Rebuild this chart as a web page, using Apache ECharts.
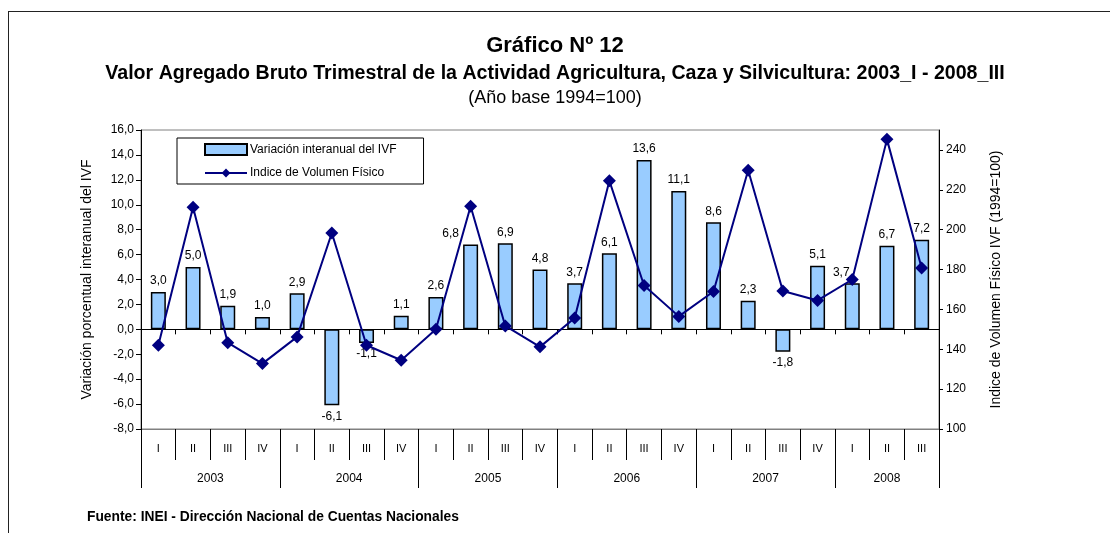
<!DOCTYPE html>
<html>
<head>
<meta charset="utf-8">
<script src="https://cdn.jsdelivr.net/npm/echarts@6/dist/echarts.min.js"></script>
<style>
  html, body { margin: 0; padding: 0; background: #fff; }
  #chart { width: 1110px; height: 533px; position: absolute; left: 0; top: 0; }
  #frame { position: absolute; left: 8px; top: 11px; width: 1200px; height: 600px;
           border-top: 1px solid #222; border-left: 1px solid #222; pointer-events: none; }
</style>
</head>
<body>
<div id="chart"></div>
<div id="frame"></div>
<script>
// ---- data ----
const years = ['2003', '2004', '2005', '2006', '2007', '2008'];
const quarters = ['I','II','III','IV','I','II','III','IV','I','II','III','IV',
                  'I','II','III','IV','I','II','III','IV','I','II','III'];
const variacion = [3.0, 5.0, 1.9, 1.0,
                   2.9, -6.1, -1.1, 1.1,
                   2.6, 6.8, 6.9, 4.8,
                   3.7, 6.1, 13.6, 11.1,
                   8.6, 2.3, -1.8, 5.1,
                   3.7, 6.7, 7.2];
const indice = [142.0, 211.2, 143.3, 132.8,
                146.2, 198.3, 142.0, 134.5,
                150.0, 211.7, 151.7, 141.2,
                155.7, 224.5, 172.0, 156.5,
                169.0, 229.8, 169.2, 164.5,
                175.0, 245.3, 180.8];
const yearBoundaries = [0, 4, 8, 12, 16, 20, 23];
const yearCenters = [2, 6, 10, 14, 18, 21.5];

// label horizontal nudges (style only)
const labelShift = { 9: -20, 20: -11 };

const FONT = "'Liberation Sans Narrow', 'Arial Narrow', 'Liberation Sans', Arial, sans-serif";
const fmt1 = v => v.toFixed(1).replace('.', ',');

const chart = echarts.init(document.getElementById('chart'), null, { renderer: 'canvas' });

const barData = variacion.map((v, i) => ({
  value: v,
  label: {
    position: v < 0 ? 'bottom' : 'top',
    offset: [labelShift[i] || 0, 0]
  }
}));

const option = {
  backgroundColor: '#fff',
  animation: false,
  textStyle: { fontFamily: FONT, color: '#000' },
  title: [
    { text: 'Gráfico Nº 12', left: 'center', top: 30,
      textStyle: { fontFamily: FONT, fontSize: 22, fontWeight: 'bold', color: '#000' } },
    { text: 'Valor Agregado Bruto Trimestral de la Actividad Agricultura, Caza y Silvicultura: 2003_I - 2008_III',
      left: 'center', top: 59,
      textStyle: { fontFamily: FONT, fontSize: 19.6, fontWeight: 'bold', color: '#000' } },
    { text: '(Año base 1994=100)', left: 'center', top: 84,
      textStyle: { fontFamily: FONT, fontSize: 18, fontWeight: 'normal', color: '#000' } },
    { text: 'Fuente: INEI - Dirección Nacional de Cuentas Nacionales', left: 82, top: 505,
      textStyle: { fontFamily: FONT, fontSize: 13.8, fontWeight: 'bold', color: '#000' } }
  ],
  legend: {
    orient: 'vertical',
    left: 177, top: 138,
    padding: [5, 27, 5, 27],
    itemGap: 11,
    itemWidth: 42, itemHeight: 11,
    borderColor: '#000', borderWidth: 1,
    backgroundColor: '#fff',
    textStyle: { fontFamily: FONT, fontSize: 12, color: '#000', padding: [0, 0, 0, -2] },
    data: [
      { name: 'Variación interanual del IVF', icon: 'rect' },
      { name: 'Indice de Volumen Físico' }
    ]
  },
  grid: {
    left: 141, right: 171, top: 130, bottom: 104,
    show: true, borderColor: '#808080', borderWidth: 1, backgroundColor: 'transparent'
  },
  xAxis: [
    { // category axis crossing at zero
      type: 'category', data: quarters, position: 'bottom',
      axisLine: { onZero: true, lineStyle: { color: '#000', width: 1 } },
      axisTick: { show: true, length: 5, lineStyle: { color: '#000' } },
      axisLabel: { show: false }
    },
    { // quarter labels at bottom
      type: 'category', data: quarters, position: 'bottom',
      axisLine: { onZero: false, lineStyle: { color: '#808080', width: 1 } },
      axisTick: { show: true, length: 31, lineStyle: { color: '#000' } },
      axisLabel: { show: true, margin: 14, fontSize: 11, color: '#000', fontFamily: FONT, interval: 0 }
    },
    { // year labels at bottom
      type: 'value', min: 0, max: 23, position: 'bottom',
      axisLine: { show: false, onZero: false },
      splitLine: { show: false },
      axisTick: { show: true, length: 59, customValues: yearBoundaries, lineStyle: { color: '#000' } },
      axisLabel: {
        show: true, margin: 44, fontSize: 12, color: '#000', fontFamily: FONT,
        customValues: yearCenters,
        formatter: v => years[yearCenters.indexOf(v)] || ''
      }
    }
  ],
  yAxis: [
    {
      type: 'value', min: -8, max: 16, interval: 2, position: 'left',
      name: 'Variación porcentual interanual del IVF',
      nameLocation: 'middle', nameGap: 47, nameRotate: 90,
      nameTextStyle: { fontFamily: FONT, fontSize: 14, color: '#000' },
      axisLine: { show: true, lineStyle: { color: '#000' } },
      axisTick: { show: true, length: 5, lineStyle: { color: '#000' } },
      splitLine: { show: false },
      axisLabel: { margin: 7, fontSize: 12, color: '#000', fontFamily: FONT, formatter: fmt1 }
    },
    {
      type: 'value', min: 100, max: 250, interval: 20, position: 'right',
      name: 'Indice de Volumen Físico IVF (1994=100)',
      nameLocation: 'middle', nameGap: 50, nameRotate: 90,
      nameTextStyle: { fontFamily: FONT, fontSize: 14, color: '#000' },
      axisLine: { show: true, lineStyle: { color: '#000' } },
      axisTick: { show: true, length: 4, lineStyle: { color: '#000' } },
      splitLine: { show: false },
      axisLabel: { margin: 7, fontSize: 12, color: '#000', fontFamily: FONT, showMaxLabel: false }
    }
  ],
  series: [
    {
      name: 'Variación interanual del IVF',
      type: 'bar', xAxisIndex: 0, yAxisIndex: 0,
      barWidth: 15,
      data: barData,
      itemStyle: { color: '#99CCFF', borderColor: '#000', borderWidth: 1.5 },
      label: { show: true, fontSize: 12, color: '#000', fontFamily: FONT, distance: 5,
               formatter: p => fmt1(p.value) },
      z: 2
    },
    {
      name: 'Indice de Volumen Físico',
      type: 'line', xAxisIndex: 0, yAxisIndex: 1,
      data: indice,
      symbol: 'diamond', symbolSize: 13,
      lineStyle: { color: '#000080', width: 2 },
      itemStyle: { color: '#000080' },
      z: 3
    }
  ]
};

chart.setOption(option);
</script>
</body>
</html>
